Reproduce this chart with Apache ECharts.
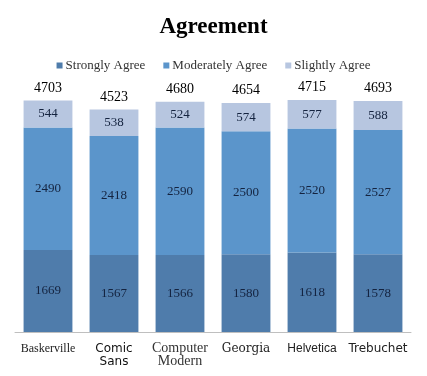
<!DOCTYPE html>
<html>
<head>
<meta charset="utf-8">
<script src="https://cdn.jsdelivr.net/npm/echarts@6/dist/echarts.min.js"></script>
<style>
  html, body { margin: 0; padding: 0; background: #fff; }
  #chart { width: 427px; height: 376px; }
</style>
</head>
<body>
<div id="chart"></div>
<script>
  // data
  var categories = ['Baskerville', 'Comic\nSans', 'Computer\nModern', 'Georgia', 'Helvetica', 'Trebuchet']
  var fontKeys = ['bask', 'comic', 'cm', 'georgia', 'helv', 'treb']
  var stronglyAgree = [1669, 1567, 1566, 1580, 1618, 1578]
  var moderatelyAgree = [2490, 2418, 2590, 2500, 2520, 2527]
  var slightlyAgree = [544, 538, 524, 574, 577, 588]
  var totals = stronglyAgree.map(function (v, i) {
    return v + moderatelyAgree[i] + slightlyAgree[i]
  })

  var serif = '"Liberation Serif", Georgia, serif'
  var innerLabel = {
    show: true,
    position: 'inside',
    color: '#14233f',
    fontFamily: serif,
    fontSize: 13
  }

  var charts = echarts.init(document.getElementById('chart'))
  var option = {
    animation: false,
    title: {
      text: 'Agreement',
      left: 'center',
      top: 11,
      textStyle: {
        fontFamily: serif,
        fontWeight: 'bold',
        fontSize: 23,
        color: '#000'
      }
    },
    legend: {
      data: ['Strongly Agree', 'Moderately Agree', 'Slightly Agree'],
      top: 54,
      left: 'center',
      icon: 'rect',
      itemWidth: 6,
      itemHeight: 6,
      itemGap: 18,
      textStyle: {
        fontFamily: serif,
        fontSize: 13,
        color: '#333',
        padding: [0, 0, 0, -2]
      }
    },
    grid: {
      left: 15,
      right: 16,
      top: 86,
      bottom: 44
    },
    xAxis: {
      type: 'category',
      data: categories,
      axisTick: { show: false },
      axisLine: { lineStyle: { color: '#bfbfbf', width: 1 } },
      axisLabel: {
        interval: 0,
        margin: 10,
        lineHeight: 13,
        formatter: function (val, idx) {
          return val.split('\n').map(function (s) {
            return '{' + fontKeys[idx] + '|' + s + '}'
          }).join('\n')
        },
        rich: {
          bask: { fontFamily: '"Liberation Serif", serif', fontSize: 12, color: '#222' },
          comic: { fontFamily: '"Comic Sans MS", "DejaVu Sans", sans-serif', fontSize: 12, color: '#111', lineHeight: 13 },
          cm: { fontFamily: '"Liberation Serif", serif', fontSize: 14, color: '#333', lineHeight: 13 },
          georgia: { fontFamily: 'Georgia, "DejaVu Serif", serif', fontSize: 12, color: '#222' },
          helv: { fontFamily: '"Liberation Sans", Arial, sans-serif', fontSize: 12, color: '#222' },
          treb: { fontFamily: '"DejaVu Sans", sans-serif', fontSize: 12, color: '#222' }
        }
      }
    },
    yAxis: {
      type: 'value',
      min: 0,
      max: 5000,
      show: false,
      splitLine: { show: false }
    },
    series: [
      {
        name: 'Strongly Agree',
        type: 'bar',
        stack: 'total',
        barWidth: '74%',
        itemStyle: { color: '#4f7cab' },
        label: innerLabel,
        data: stronglyAgree
      },
      {
        name: 'Moderately Agree',
        type: 'bar',
        stack: 'total',
        itemStyle: { color: '#5b95cb' },
        label: innerLabel,
        data: moderatelyAgree
      },
      {
        name: 'Slightly Agree',
        type: 'bar',
        stack: 'total',
        itemStyle: { color: '#b7c6e0' },
        label: innerLabel,
        data: slightlyAgree
      },
      {
        // totals above each bar
        name: 'Total',
        type: 'line',
        silent: true,
        symbol: 'circle',
        symbolSize: 1,
        itemStyle: { color: 'rgba(0,0,0,0)' },
        lineStyle: { opacity: 0 },
        label: {
          show: true,
          position: 'top',
          distance: 5,
          color: '#000',
          fontFamily: serif,
          fontSize: 14
        },
        data: totals
      }
    ]
  }
  charts.setOption(option)
</script>
</body>
</html>
